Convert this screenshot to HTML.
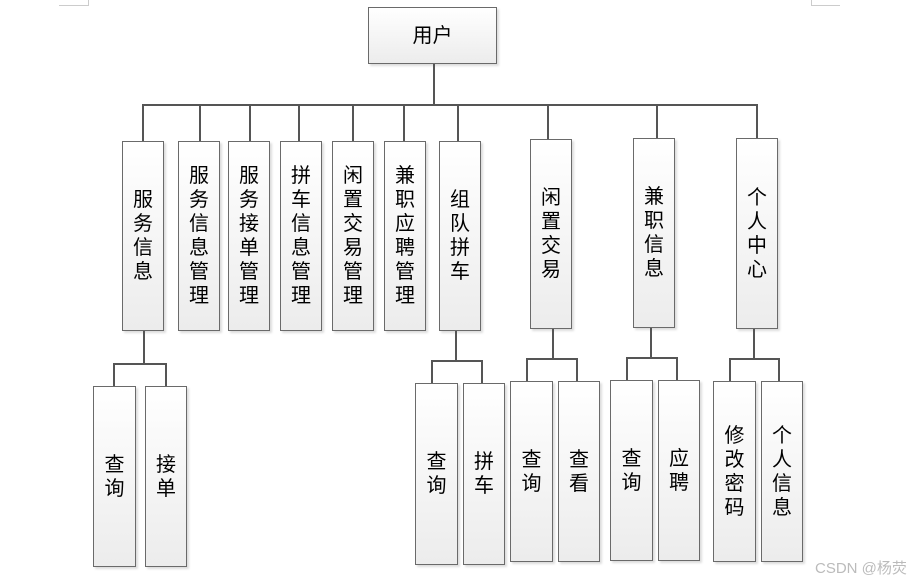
<!DOCTYPE html>
<html><head><meta charset="utf-8"><style>
*{margin:0;padding:0;box-sizing:border-box}
body{width:919px;height:583px;background:#fff;position:relative;overflow:hidden;font-family:"Liberation Sans","Noto Sans CJK SC",sans-serif}
.b{position:absolute;border:1.5px solid #6a6a6a;background:linear-gradient(#fff,#ececec);box-shadow:2px 2px 2px #ddd;display:flex;align-items:center;justify-content:center;color:#000;font-size:20px;line-height:24px;text-align:center}
.v{width:22px;word-break:break-all}
.l{position:absolute;background:#555}
.h{height:2px}.vl{width:2px}
.wm{position:absolute;left:815px;top:557px;font-size:15px;color:#bbb}
</style></head><body>
<div class="l" style="left:59px;top:5px;width:29px;height:1px;background:#ccc"></div>
<div class="l" style="left:88px;top:0;width:1px;height:6px;background:#ccc"></div>
<div class="l" style="left:811px;top:5px;width:29px;height:1px;background:#ccc"></div>
<div class="l" style="left:811px;top:0;width:1px;height:6px;background:#ccc"></div>

<div class="b" style="left:368px;top:7px;width:129px;height:57px">用户</div>
<div class="l vl" style="left:433px;top:64px;height:42px"></div>
<div class="l h" style="left:142px;top:104px;width:616px"></div>

<div class="l vl" style="left:142px;top:104px;height:37px"></div>
<div class="l vl" style="left:199px;top:104px;height:37px"></div>
<div class="l vl" style="left:249px;top:104px;height:37px"></div>
<div class="l vl" style="left:298px;top:104px;height:37px"></div>
<div class="l vl" style="left:352px;top:104px;height:37px"></div>
<div class="l vl" style="left:403px;top:104px;height:37px"></div>
<div class="l vl" style="left:457px;top:104px;height:37px"></div>
<div class="l vl" style="left:547px;top:104px;height:35px"></div>
<div class="l vl" style="left:656px;top:104px;height:34px"></div>
<div class="l vl" style="left:756px;top:104px;height:34px"></div>

<div class="b" style="left:122px;top:141px;width:42px;height:190px"><div class="v">服务信息</div></div>
<div class="b" style="left:178px;top:141px;width:42px;height:190px"><div class="v">服务信息管理</div></div>
<div class="b" style="left:228px;top:141px;width:42px;height:190px"><div class="v">服务接单管理</div></div>
<div class="b" style="left:280px;top:141px;width:42px;height:190px"><div class="v">拼车信息管理</div></div>
<div class="b" style="left:332px;top:141px;width:42px;height:190px"><div class="v">闲置交易管理</div></div>
<div class="b" style="left:384px;top:141px;width:42px;height:190px"><div class="v">兼职应聘管理</div></div>
<div class="b" style="left:439px;top:141px;width:42px;height:190px"><div class="v">组队拼车</div></div>
<div class="b" style="left:530px;top:139px;width:42px;height:190px"><div class="v">闲置交易</div></div>
<div class="b" style="left:633px;top:138px;width:42px;height:190px"><div class="v">兼职信息</div></div>
<div class="b" style="left:736px;top:138px;width:42px;height:191px"><div class="v">个人中心</div></div>

<!-- group 1 -->
<div class="l vl" style="left:143px;top:331px;height:34px"></div>
<div class="l h" style="left:113px;top:363px;width:54px"></div>
<div class="l vl" style="left:113px;top:363px;height:23px"></div>
<div class="l vl" style="left:165px;top:363px;height:23px"></div>
<div class="b" style="left:93px;top:386px;width:43px;height:181px"><div class="v">查询</div></div>
<div class="b" style="left:145px;top:386px;width:42px;height:181px"><div class="v">接单</div></div>

<!-- group 组队 -->
<div class="l vl" style="left:455px;top:331px;height:31px"></div>
<div class="l h" style="left:431px;top:360px;width:52px"></div>
<div class="l vl" style="left:431px;top:360px;height:24px"></div>
<div class="l vl" style="left:481px;top:360px;height:24px"></div>
<div class="b" style="left:415px;top:383px;width:43px;height:182px"><div class="v">查询</div></div>
<div class="b" style="left:463px;top:383px;width:42px;height:182px"><div class="v">拼车</div></div>

<!-- group 闲置 -->
<div class="l vl" style="left:552px;top:329px;height:31px"></div>
<div class="l h" style="left:526px;top:358px;width:52px"></div>
<div class="l vl" style="left:526px;top:358px;height:24px"></div>
<div class="l vl" style="left:576px;top:358px;height:24px"></div>
<div class="b" style="left:510px;top:381px;width:43px;height:181px"><div class="v">查询</div></div>
<div class="b" style="left:558px;top:381px;width:42px;height:181px"><div class="v">查看</div></div>

<!-- group 兼职 -->
<div class="l vl" style="left:650px;top:328px;height:30px"></div>
<div class="l h" style="left:626px;top:357px;width:52px"></div>
<div class="l vl" style="left:626px;top:357px;height:24px"></div>
<div class="l vl" style="left:676px;top:357px;height:24px"></div>
<div class="b" style="left:610px;top:380px;width:43px;height:181px"><div class="v">查询</div></div>
<div class="b" style="left:658px;top:380px;width:42px;height:181px"><div class="v">应聘</div></div>

<!-- group 个人 -->
<div class="l vl" style="left:753px;top:329px;height:30px"></div>
<div class="l h" style="left:729px;top:358px;width:51px"></div>
<div class="l vl" style="left:729px;top:358px;height:24px"></div>
<div class="l vl" style="left:778px;top:358px;height:24px"></div>
<div class="b" style="left:713px;top:381px;width:43px;height:181px"><div class="v">修改密码</div></div>
<div class="b" style="left:761px;top:381px;width:42px;height:181px"><div class="v">个人信息</div></div>

<div class="wm">CSDN @杨荧</div>
</body></html>
